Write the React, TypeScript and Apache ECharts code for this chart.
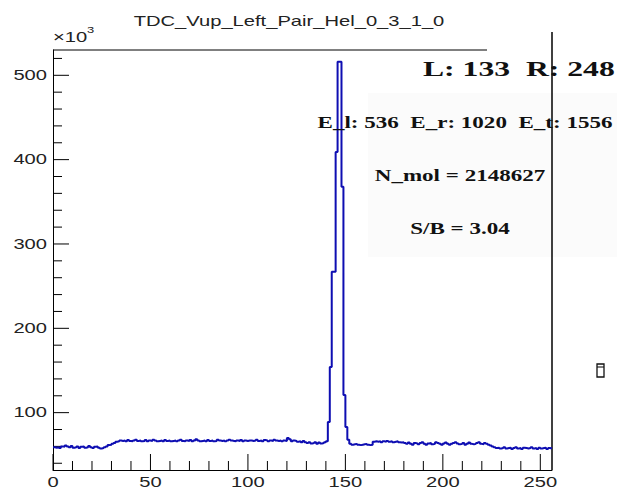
import React, { useEffect, useRef } from 'react';
import * as echarts from 'echarts';

const TITLE = 'TDC_Vup_Left_Pair_Hel_0_3_1_0';
const Y_EXPONENT_BASE = '×10';
const Y_EXPONENT = '3';

const X_MIN = 0;
const X_MAX = 256;
const Y_MIN = 32;
const Y_MAX = 530;

const xTickValues = [0, 50, 100, 150, 200, 250];
const xMinorValues = [10, 20, 30, 40, 60, 70, 80, 90, 110, 120, 130, 140, 160, 170, 180, 190, 210, 220, 230, 240];
const yTickValues = [100, 200, 300, 400, 500];
const yMinorValues = [40, 60, 80, 120, 140, 160, 180, 220, 240, 260, 280, 320, 340, 360, 380, 420, 440, 460, 480, 520];

// counts per bin (thousands), bins 0..255 of width 1
const countsLow = [59, 58.5, 59, 58, 60, 59.5, 61, 60, 59, 60.5, 58.5, 59, 60, 58, 59.5, 60, 58.5, 59, 60.5, 59, 58, 59.5, 60, 58.5, 57.5, 58, 59, 60, 61.5, 62, 63, 64, 65.5, 66];
const countsRiseA = [67, 66.5, 67, 66, 67.5, 66.5, 66, 67, 68, 66.5, 67, 66, 66.5, 67.5, 66, 67, 66.5, 68, 67, 66, 66.5, 67, 66, 67.5, 66.5, 67, 66];
const countsMid = [66.5, 67, 66, 67, 68, 66.5, 66, 67, 66.5, 67.5, 66, 67, 68.5, 67, 66, 66.5, 67, 66, 67.5, 66.5, 67, 66, 66.5, 68, 67, 66.5, 67, 66, 67, 68, 67, 66.5, 66, 67, 66.5, 67.5, 66, 67, 66.5, 67];
const countsPrePeak = [67, 66.5, 67, 68, 66.5, 67, 66, 67.5, 67, 66, 67, 66.5, 68, 67, 66.5, 67, 66, 67, 66.5, 70, 68.5, 66, 67, 66.5, 65.5, 66, 65, 66.5, 65, 64, 65, 63.5, 64, 65, 63, 64.5, 63.5, 64, 65];
const countsPeak = [66, 89, 154, 267, 267, 409, 516, 516, 368, 121, 83, 68];
const countsPostA = [63, 62, 62.5, 63, 62, 61.5, 62, 62.5, 63, 62, 61.5, 62];
const countsPostB = [65.5, 66, 65.5, 66, 65, 66, 65.5, 66.5, 65.5, 66, 65, 65.5, 66, 65, 64.5, 65, 64];
const countsPostC = [63, 64.5, 63, 62, 64, 63.5, 62.5, 64, 65, 63, 62, 63.5, 64, 62.5, 63, 65, 64, 63, 62, 63.5, 64.5, 63, 62, 63, 64, 65, 63.5, 62.5, 63, 64, 62, 63, 64.5, 63, 62.5, 63, 64, 65, 63, 62.5, 64, 63, 62, 61, 60];
const countsTail = [59, 58, 58.5, 57.5, 58, 59, 57.5, 58, 58.5, 57, 58, 59, 57.5, 58, 57, 58.5, 58, 57.5, 58, 59, 57.5, 58, 57, 58.5, 57.5, 58, 58.5, 57, 58, 57.5];

const annotations = ['L: 133  R: 248', 'E_l: 536  E_r: 1020  E_t: 1556', 'N_mol = 2148627', 'S/B = 3.04'];

const W = 617;
const H = 491;
const GRID = { left: 53, right: 65, top: 50, bottom: 21 };
const SX = 1.44;
const SANS = 'Liberation Sans, Arial, sans-serif';
const SERIF = 'Liberation Serif, Times New Roman, serif';
const LINE_COLOR = '#0e0eb2';
const MAJOR_LEN = 16;
const MINOR_LEN = 9;

function txt(text: string, x: number, y: number, size: number, align: string, family: string, weight: string, fill = '#1a1a1a', vAlign = 'middle') {
  return {
    type: 'text',
    x,
    y,
    scaleX: SX,
    z: 10,
    silent: true,
    style: {
      text,
      fill,
      fontSize: size,
      fontFamily: family,
      fontWeight: weight,
      align,
      textAlign: align,
      verticalAlign: vAlign,
      textVerticalAlign: vAlign,
    },
  };
}

function seg(x1: number, y1: number, x2: number, y2: number, w = 1) {
  return {
    type: 'line',
    shape: { x1, y1, x2, y2 },
    style: { stroke: '#000', lineWidth: w },
    z: 3,
    silent: true,
  };
}

export default function App() {
  const ref = useRef<HTMLDivElement>(null);

  useEffect(() => {
    if (!ref.current) return;
    const chart = echarts.init(ref.current, null, { renderer: 'svg' });
    const counts = [
      ...countsLow,
      ...countsRiseA,
      ...countsMid,
      ...countsPrePeak,
      ...countsPeak,
      ...countsPostA,
      ...countsPostB,
      ...countsPostC,
      ...countsTail,
    ];
    const data = counts.map((v, i) => [i, v]);
    data.push([X_MAX, counts[counts.length - 1]]);

    const axisLine = { show: true, onZero: false, lineStyle: { color: '#000', width: 1 } };

    chart.setOption({
      animation: false,
      backgroundColor: '#ffffff',
      grid: { ...GRID, containLabel: false, outerBoundsMode: 'none' },
      xAxis: {
        type: 'value',
        min: X_MIN,
        max: X_MAX,
        position: 'bottom',
        axisLine,
        axisTick: { show: false },
        axisLabel: { show: false },
        splitLine: { show: false },
      },
      yAxis: {
        type: 'value',
        min: Y_MIN,
        max: Y_MAX,
        position: 'left',
        axisLine,
        axisTick: { show: false },
        axisLabel: { show: false },
        splitLine: { show: false },
      },
      series: [
        {
          type: 'line',
          step: 'end',
          data,
          symbol: 'none',
          showSymbol: false,
          lineStyle: { color: LINE_COLOR, width: 2 },
          z: 5,
        },
      ],
    });

    const left = GRID.left;
    const right = W - GRID.right;
    const top = GRID.top;
    const bottom = H - GRID.bottom;

    const elements: any[] = [
      {
        type: 'rect',
        shape: { x: 368, y: 93, width: 249, height: 164 },
        style: { fill: '#fbfbfb' },
        z: 0,
        silent: true,
      },
      seg(left, top, 487, top),
      seg(right, 32, right, bottom, 1.5),
      txt(TITLE, 289, 21, 14, 'center', SANS, 'normal', '#222'),
      txt(Y_EXPONENT_BASE, 53, 44, 14, 'left', SANS, 'normal', '#222', 'bottom'),
      {
        type: 'text',
        x: 87,
        y: 34,
        scaleX: SX,
        z: 10,
        silent: true,
        style: { text: Y_EXPONENT, fill: '#222', fontSize: 9, fontFamily: SANS, align: 'left', textAlign: 'left', verticalAlign: 'bottom', textVerticalAlign: 'bottom' },
      },
      txt(annotations[0], 423, 69, 22, 'left', SERIF, 'bold', '#111'),
      txt(annotations[1], 465, 122, 16, 'center', SERIF, 'bold', '#111'),
      txt(annotations[2], 460, 175, 16, 'center', SERIF, 'bold', '#111'),
      txt(annotations[3], 460, 228, 16, 'center', SERIF, 'bold', '#111'),
      {
        type: 'rect',
        shape: { x: 597, y: 364, width: 7, height: 13 },
        style: { fill: 'none', stroke: '#111', lineWidth: 1.3 },
        z: 10,
        silent: true,
      },
      seg(597, 367, 604, 367),
    ];

    xTickValues.forEach((v) => {
      const px = chart.convertToPixel({ xAxisIndex: 0 }, v) as number;
      elements.push(seg(px, bottom, px, bottom - MAJOR_LEN));
      elements.push(txt(String(v), px, bottom + 12, 14, 'center', SANS, 'normal', '#222'));
    });
    xMinorValues.forEach((v) => {
      const px = chart.convertToPixel({ xAxisIndex: 0 }, v) as number;
      elements.push(seg(px, bottom, px, bottom - MINOR_LEN));
    });
    yTickValues.forEach((v) => {
      const py = chart.convertToPixel({ yAxisIndex: 0 }, v) as number;
      elements.push(seg(left, py, left + MAJOR_LEN, py));
      elements.push(txt(String(v), left - 6, py, 14, 'right', SANS, 'normal', '#222'));
    });
    yMinorValues.forEach((v) => {
      const py = chart.convertToPixel({ yAxisIndex: 0 }, v) as number;
      elements.push(seg(left, py, left + MINOR_LEN, py));
    });

    chart.setOption({ graphic: { elements } });

    return () => {
      chart.dispose();
    };
  }, []);

  return (
    <div
      ref={ref}
      style={{ position: 'fixed', left: 0, top: 0, width: W, height: H, background: '#fff' }}
    />
  );
}
